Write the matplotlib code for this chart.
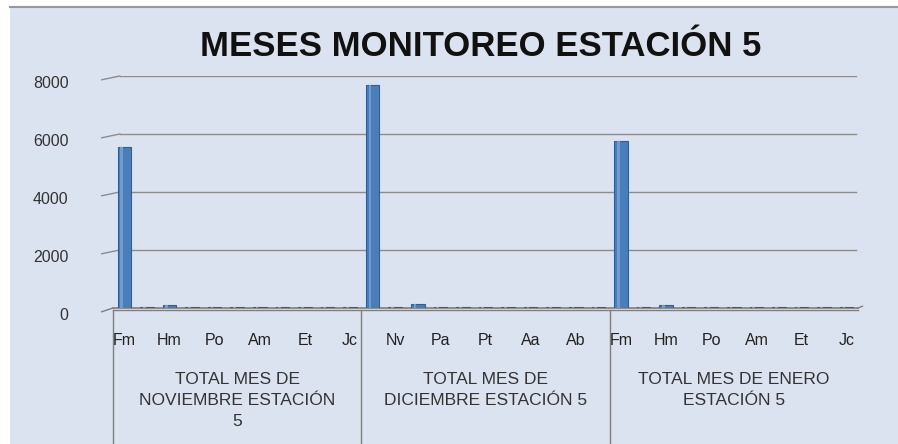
import numpy as np
import matplotlib
matplotlib.use("Agg")
from matplotlib import pyplot as plt
from matplotlib.transforms import blended_transform_factory

plt.rcParams['font.family'] = ['Liberation Sans Narrow', 'Liberation Sans', 'DejaVu Sans']

# categories repeated in each month group
species = ["Fm", "Nv", "Hm", "Pa", "Po", "Pt", "Am", "Aa", "Et", "Ab", "Jc"]
groups = ["TOTAL MES DE\nNOVIEMBRE ESTACIÓN\n5",
          "TOTAL MES DE\nDICIEMBRE ESTACIÓN 5",
          "TOTAL MES DE ENERO\nESTACIÓN 5"]
nov = [5550, 40, 120, 40, 40, 40, 40, 40, 40, 40, 40]
dic = [7700, 40, 130, 40, 40, 40, 40, 40, 40, 40, 40]
ene = [5750, 40, 120, 40, 40, 40, 40, 40, 40, 40, 40]
yticks = [0, 2000, 4000, 6000, 8000]

values = nov + dic + ene
labels = species * 3
n = len(species)

bg = '#dce3f0'
fig = plt.figure(figsize=(8.98, 4.44), dpi=100, facecolor='white')

# chart area: white margin at left and top, grey line along the top
fig.add_artist(plt.Rectangle((10 / 898, 0), 888 / 898, 1 - 7 / 444,
                             transform=fig.transFigure, facecolor=bg,
                             edgecolor='none', zorder=-10))
fig.add_artist(plt.Line2D([10 / 898, 1], [1 - 7 / 444, 1 - 7 / 444],
                          transform=fig.transFigure, color='#999999', lw=1.5,
                          zorder=-9))

ax = fig.add_axes([113 / 898, 136 / 444, 745 / 898, 232 / 444])
ax.set_facecolor('none')

x = np.arange(len(values)) + 0.5
ax.bar(x, values, width=0.6, color='#4a7ebb', edgecolor='#2f5f94', linewidth=0.8, zorder=3)
# light highlight on the bar face
ax.bar(x - 0.12, values, width=0.12, color='#6f9bd1', linewidth=0, zorder=4)

ax.set_xlim(0, len(values))
ax.set_ylim(0, 8000)
ax.set_yticks(yticks)
ax.set_yticklabels([str(v) for v in yticks], fontsize=11.5, color='#333333', va='top')
ax.tick_params(axis='y', length=0, pad=32)
ax.set_xticks([])
for s in ax.spines.values():
    s.set_visible(False)

# back-wall gridlines with a small perspective stub on the left
for v in yticks[1:]:
    ax.plot([0.3, len(values) - 0.1], [v, v], color='#8c8c8c', linewidth=1, zorder=1)
    ax.plot([-0.5, 0.3], [v - 130, v], color='#8c8c8c', linewidth=1, clip_on=False)

# floor edge
ax.plot([0, len(values)], [0, 0], color='#7f7f7f', lw=1.2, zorder=2, clip_on=False)
ax.plot([0, -0.5], [0, -130], color='#7f7f7f', lw=1, clip_on=False)
ax.plot([len(values), len(values) + 0.2], [0, 60], color='#7f7f7f', lw=1, clip_on=False)

# category table below the axis
tr = blended_transform_factory(ax.transData, ax.transAxes)
for i, lab in enumerate(labels):
    if i % 2 == 0:
        ax.text(i + 0.5, -0.14, lab, transform=tr, ha='center', va='center',
                fontsize=11.5, color='#222222')
for g, name in enumerate(groups):
    ax.plot([g * n, g * n], [-0.01, -0.62], transform=tr, color='#7f7f7f',
            lw=1, clip_on=False)
    ax.text(g * n + n / 2, -0.275, name, transform=tr, ha='center', va='top',
            fontsize=12.5, color='#333333', linespacing=1.5)
ax.plot([0, len(values)], [-0.01, -0.01], transform=tr, color='#7f7f7f',
        lw=1, clip_on=False)

fig.text(0.535, 0.895, "MESES MONITOREO ESTACIÓN 5", ha='center', va='center',
         fontsize=25, fontweight='bold', color='#111111')

fig.savefig('out.png', dpi=100, facecolor='white')
